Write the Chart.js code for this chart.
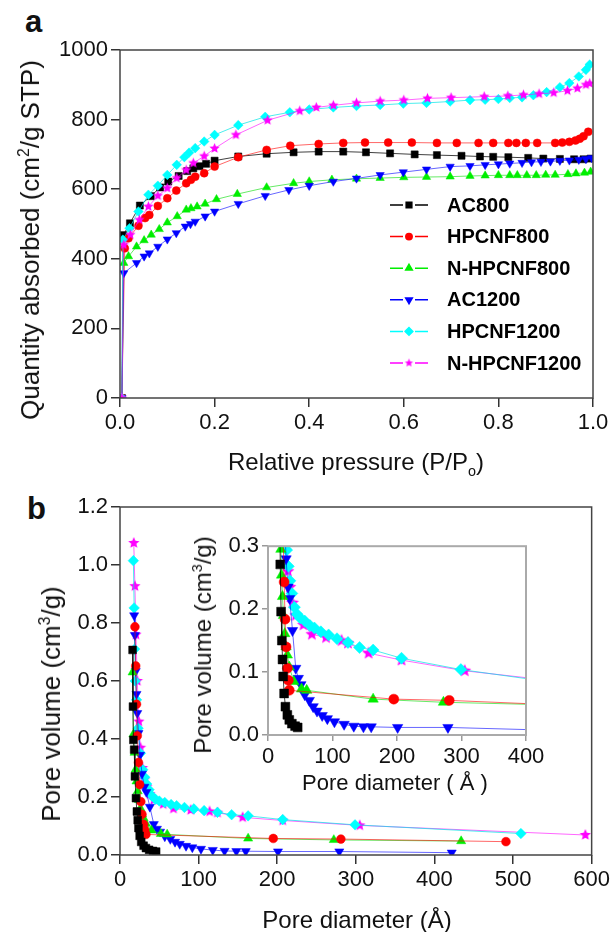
<!DOCTYPE html>
<html>
<head>
<meta charset="utf-8">
<script src="https://cdn.jsdelivr.net/npm/chart.js@4.4.0/dist/chart.umd.min.js"></script>
<style>
  body { margin: 0; background: #fff; width: 613px; height: 932px; overflow: hidden; position: relative;
         font-family: 'Liberation Sans', Arial, sans-serif; color: #111; }
  canvas { position: absolute; }
  .lbl { position: absolute; white-space: nowrap; line-height: 1; transform: translate(-50%, -50%); }
  .rot { transform: translate(-50%, -50%) rotate(-90deg); }
  .panel { position: absolute; font-weight: bold; font-size: 31px; line-height: 1; }
  sup, sub { font-size: 60%; line-height: 0; }
</style>
</head>
<body>
<div class="panel" style="left:25px;top:6px">a</div>
<div class="panel" style="left:27px;top:493px">b</div>

<canvas id="chartA" width="613" height="480" style="left:0;top:0"></canvas>
<canvas id="chartB" width="613" height="452" style="left:0;top:480px"></canvas>
<canvas id="chartInset" width="380" height="270" style="left:185px;top:530px"></canvas>

<div class="lbl rot" style="left:30px;top:240px;font-size:26px">Quantity absorbed (cm<sup>2</sup>/g STP)</div>
<div class="lbl" style="left:356px;top:462px;font-size:24px">Relative pressure (P/P<sub>o</sub>)</div>
<div class="lbl rot" style="left:51px;top:704px;font-size:26px">Pore volume (cm<sup>3</sup>/g)</div>
<div class="lbl" style="left:357px;top:920px;font-size:24px">Pore diameter (Å)</div>
<div class="lbl rot" style="left:203px;top:645px;font-size:24px">Pore volume (cm<sup>3</sup>/g)</div>
<div class="lbl" style="left:395px;top:783px;font-size:22px">Pore diameter ( Å )</div>

<script>
// --- series ---
const seriesNames = ['AC800', 'HPCNF800', 'N-HPCNF800', 'AC1200', 'HPCNF1200', 'N-HPCNF1200'];
const seriesColors = ['#000000', '#ff0000', '#00ee00', '#0000ff', '#00ffff', '#ff00ff'];
const lineColors = ['rgba(0,0,0,0.75)', 'rgba(255,0,0,0.6)', 'rgba(0,220,0,0.6)', 'rgba(0,0,255,0.6)', 'rgba(0,230,230,0.7)', 'rgba(255,0,255,0.6)'];
const seriesShapes = ['rect', 'circle', 'triangle', 'triangleDown', 'rectRot', 'star'];

// --- panel a: isotherms (P/Po, cm2/g STP) ---
const pAC800 = [0.004, 0.007, 0.021, 0.042, 0.065, 0.085, 0.102, 0.124, 0.142, 0.155, 0.168, 0.182, 0.2, 0.25, 0.31, 0.367, 0.42, 0.472, 0.52, 0.571, 0.623, 0.67, 0.722, 0.761, 0.789, 0.821, 0.863, 0.895, 0.93, 0.96, 0.98, 0.995];
const vAC800 = [0, 468, 502, 553, 580, 605, 622, 638, 652, 660, 666, 673, 682, 694, 702, 706, 708, 708, 706, 703, 700, 698, 696, 694, 693, 692, 690, 688, 687, 686, 686, 688];

const pHPCNF800 = [0.004, 0.01, 0.018, 0.039, 0.053, 0.062, 0.08, 0.1, 0.119, 0.14, 0.15, 0.159, 0.178, 0.2, 0.25, 0.31, 0.36, 0.42, 0.472, 0.518, 0.567, 0.617, 0.67, 0.712, 0.758, 0.789, 0.821, 0.838, 0.858, 0.882, 0.92, 0.935, 0.95, 0.963, 0.972, 0.98, 0.99];
const vHPCNF800 = [0, 430, 459, 495, 517, 526, 552, 574, 596, 617, 627, 636, 646, 665, 692, 713, 725, 730, 733, 734, 734, 734, 733, 733, 733, 733, 733, 733, 733, 733, 733, 734, 736, 740, 745, 752, 765];

const pNHPCNF800 = [0.004, 0.008, 0.018, 0.035, 0.051, 0.066, 0.083, 0.1, 0.121, 0.14, 0.15, 0.163, 0.18, 0.204, 0.248, 0.31, 0.367, 0.4, 0.448, 0.5, 0.55, 0.6, 0.648, 0.698, 0.74, 0.772, 0.8, 0.824, 0.84, 0.86, 0.88, 0.9, 0.92, 0.947, 0.964, 0.982, 0.995];
const vNHPCNF800 = [0, 388, 407, 435, 453, 469, 485, 504, 522, 541, 545, 550, 558, 571, 586, 605, 617, 622, 627, 630, 632, 634, 635, 636, 638, 639, 640, 640, 640, 640, 640, 641, 641, 643, 645, 647, 650];

const pAC1200 = [0.004, 0.008, 0.035, 0.051, 0.062, 0.08, 0.1, 0.119, 0.138, 0.149, 0.159, 0.18, 0.2, 0.25, 0.307, 0.357, 0.4, 0.451, 0.5, 0.55, 0.599, 0.648, 0.698, 0.74, 0.772, 0.8, 0.824, 0.85, 0.87, 0.89, 0.91, 0.93, 0.95, 0.97, 0.985, 0.997];
const vAC1200 = [0, 359, 388, 407, 416, 435, 456, 474, 493, 500, 507, 522, 536, 558, 581, 598, 610, 622, 631, 641, 649, 657, 665, 667, 670, 672, 674, 676, 678, 679, 680, 682, 683, 685, 687, 690];

const pHPCNF1200 = [0.004, 0.006, 0.02, 0.039, 0.06, 0.08, 0.1, 0.12, 0.136, 0.146, 0.159, 0.178, 0.2, 0.25, 0.307, 0.359, 0.4, 0.451, 0.5, 0.55, 0.599, 0.648, 0.698, 0.74, 0.772, 0.8, 0.824, 0.85, 0.874, 0.902, 0.93, 0.95, 0.97, 0.985, 0.993];
const vHPCNF1200 = [0, 455, 488, 536, 584, 610, 641, 670, 692, 705, 718, 737, 756, 784, 808, 821, 829, 835, 839, 842, 846, 848, 852, 856, 857, 859, 862, 864, 870, 879, 893, 905, 924, 943, 958];

const pNHPCNF1200 = [0.004, 0.008, 0.022, 0.041, 0.06, 0.08, 0.1, 0.12, 0.14, 0.155, 0.178, 0.2, 0.245, 0.312, 0.38, 0.415, 0.451, 0.5, 0.55, 0.6, 0.65, 0.7, 0.77, 0.82, 0.853, 0.886, 0.917, 0.946, 0.967, 0.985, 0.993];
const vNHPCNF1200 = [0, 440, 469, 512, 550, 581, 603, 632, 655, 675, 695, 717, 756, 798, 825, 835, 841, 848, 853, 856, 861, 863, 866, 868, 871, 874, 877, 883, 890, 900, 904];

// --- panel b: pore size distribution (Å, cm3/g) ---
const dAC800 = [16, 16.5, 17, 18, 19, 20.3, 21.5, 22.5, 23.5, 25, 27, 30, 33, 37, 42, 46];
const wAC800 = [0.707, 0.512, 0.397, 0.363, 0.271, 0.196, 0.15, 0.12, 0.093, 0.066, 0.045, 0.032, 0.024, 0.018, 0.014, 0.012];

const dHPCNF800 = [19, 20, 21, 22, 23.5, 25, 26.5, 28, 30, 31.5, 33, 195, 281, 491];
const wHPCNF800 = [0.787, 0.652, 0.52, 0.411, 0.319, 0.243, 0.184, 0.14, 0.106, 0.087, 0.071, 0.057, 0.055, 0.046];

const dNHPCNF800 = [16, 17, 18.5, 20, 21, 22.5, 24, 26, 28, 30, 33, 40, 52, 60, 163, 272, 434];
const wNHPCNF800 = [0.63, 0.416, 0.353, 0.295, 0.254, 0.22, 0.19, 0.161, 0.14, 0.127, 0.108, 0.085, 0.073, 0.071, 0.057, 0.052, 0.048];

const dAC1200 = [18, 19, 20, 21, 22, 23.5, 25.5, 28, 31, 33.5, 38, 43, 47, 51, 57, 64, 70, 76, 84, 92, 103, 118, 133, 148, 160, 201, 279, 422];
const wAC1200 = [0.826, 0.758, 0.634, 0.555, 0.489, 0.42, 0.345, 0.28, 0.235, 0.217, 0.166, 0.106, 0.09, 0.08, 0.064, 0.055, 0.045, 0.038, 0.031, 0.026, 0.021, 0.017, 0.014, 0.013, 0.013, 0.012, 0.012, 0.008];

const dHPCNF1200 = [17, 18, 18.6, 19.4, 21, 23, 26, 29, 31.5, 34, 37, 41, 45, 50, 57, 65, 72, 82, 94, 107, 124, 142, 163, 207, 299, 510];
const wHPCNF1200 = [1.015, 0.852, 0.71, 0.6, 0.535, 0.437, 0.351, 0.294, 0.268, 0.245, 0.225, 0.203, 0.192, 0.186, 0.181, 0.174, 0.17, 0.164, 0.159, 0.153, 0.147, 0.139, 0.135, 0.122, 0.104, 0.074];

const dNHPCNF1200 = [17.5, 19, 20.3, 22, 24, 26, 28.5, 31, 34, 38, 43, 55, 68, 90, 114, 124, 156, 207, 305, 592];
const wNHPCNF1200 = [1.076, 0.927, 0.76, 0.6, 0.46, 0.37, 0.3, 0.26, 0.235, 0.21, 0.19, 0.175, 0.16, 0.155, 0.15, 0.146, 0.13, 0.119, 0.102, 0.069];

const isoX = [pAC800, pHPCNF800, pNHPCNF800, pAC1200, pHPCNF1200, pNHPCNF1200];
const isoY = [vAC800, vHPCNF800, vNHPCNF800, vAC1200, vHPCNF1200, vNHPCNF1200];
const psdX = [dAC800, dHPCNF800, dNHPCNF800, dAC1200, dHPCNF1200, dNHPCNF1200];
const psdY = [wAC800, wHPCNF800, wNHPCNF800, wAC1200, wHPCNF1200, wNHPCNF1200];

const FONT = "'Liberation Sans', Arial, sans-serif";

// filled five point star used as a point style
function makeStar(r, color) {
    const c = document.createElement('canvas');
    const s = Math.ceil(r * 2 + 2);
    c.width = s; c.height = s;
    const g = c.getContext('2d');
    g.fillStyle = color;
    g.beginPath();
    for (let k = 0; k < 10; k++) {
        const rr = k % 2 ? r * 0.45 : r;
        const a = -Math.PI / 2 + k * Math.PI / 5;
        g.lineTo(s / 2 + rr * Math.cos(a), s / 2 + rr * Math.sin(a));
    }
    g.closePath();
    g.fill();
    return c;
}

function buildDatasets(xsList, ysList, r, laterOnTop) {
    const star = makeStar(r * 1.35, seriesColors[5]);
    return seriesNames.map((name, i) => {
        const shape = seriesShapes[i];
        let style = shape, rot = 0, rad = r;
        if (shape === 'triangleDown') { style = 'triangle'; rot = 180; }
        if (shape === 'star') style = star;
        if (shape === 'rect') rad = r * 1.25;
        if (shape === 'rectRot') rad = r * 1.2;
        if (style === 'triangle') rad = r * 1.2;
        return {
            label: name,
            data: xsList[i].map((x, j) => ({ x: x, y: ysList[i][j] })),
            borderColor: lineColors[i],
            borderWidth: 1,
            backgroundColor: seriesColors[i],
            pointBackgroundColor: seriesColors[i],
            pointBorderColor: seriesColors[i],
            pointBorderWidth: 0.5,
            pointStyle: style,
            pointRotation: rot,
            pointRadius: rad,
            pointHoverRadius: rad,
            tension: 0,
            fill: false,
            order: laterOnTop ? -i : i
        };
    });
}

function axis(min, max, step, digits, fixed, tickLen, tickColor) {
    return {
        type: 'linear', min: min, max: max,
        ticks: {
            stepSize: step, autoSkip: false, maxRotation: 0, padding: 3,
            color: '#111', font: { family: FONT, size: 22 },
            callback: v => Number(v).toFixed(digits)
        },
        grid: { display: true, drawOnChartArea: false, drawTicks: true, tickLength: tickLen, color: tickColor, lineWidth: 1.5 },
        border: { display: false },
        afterFit: s => { if (s.isHorizontal()) s.height = fixed; else s.width = fixed; }
    };
}

const framePlugin = {
    id: 'frame',
    afterDatasetsDraw(chart, args, opts) {
        const { left, top, right, bottom } = chart.chartArea;
        const ctx = chart.ctx;
        ctx.save();
        ctx.strokeStyle = opts.color;
        ctx.lineWidth = opts.width;
        ctx.strokeRect(left, top, right - left, bottom - top);
        ctx.restore();
    }
};

// legend of panel a, drawn inside the plot: dash, marker, dash
const isoLegend = {
    id: 'isoLegend',
    afterDraw(chart) {
        const ctx = chart.ctx;
        chart.data.datasets.forEach((ds, i) => {
            const y = 205 + i * 31.6;
            ctx.save();
            ctx.strokeStyle = seriesColors[i];
            ctx.lineWidth = 1.5;
            ctx.beginPath();
            ctx.moveTo(390, y); ctx.lineTo(403, y);
            ctx.moveTo(415, y); ctx.lineTo(428, y);
            ctx.stroke();
            ctx.fillStyle = seriesColors[i];
            let st = ds.pointStyle;
            if (typeof st !== 'string') st = makeStar(4.4, seriesColors[5]);
            Chart.helpers.drawPoint(ctx, { pointStyle: st, rotation: ds.pointRotation, radius: ds.pointRadius * 0.8, borderWidth: 0.5 }, 409, y);
            ctx.fillStyle = '#000';
            ctx.font = 'bold 20px ' + FONT;
            ctx.textBaseline = 'middle';
            ctx.fillText(ds.label, 447, y + 1);
            ctx.restore();
        });
    }
};

function baseOptions(padding, xAxis, yAxis, frameColor, frameWidth) {
    return {
        responsive: false, animation: false, events: [],
        layout: { padding: padding },
        scales: { x: xAxis, y: yAxis },
        plugins: { legend: { display: false }, tooltip: { enabled: false }, frame: { color: frameColor, width: frameWidth } }
    };
}

// --- panel a ---
new Chart(document.getElementById('chartA'), {
    type: 'line',
    data: { datasets: buildDatasets(isoX, isoY, 4.0, true) },
    options: baseOptions({ left: 0, top: 50, right: 20, bottom: 0 },
        axis(0, 1, 0.2, 1, 82, 9, '#333'),
        axis(0, 1000, 200, 0, 120, 9, '#333'), '#444', 1.5),
    plugins: [framePlugin, isoLegend]
});

// --- panel b ---
new Chart(document.getElementById('chartB'), {
    type: 'line',
    data: { datasets: buildDatasets(psdX, psdY, 4.4, false) },
    options: baseOptions({ left: 0, top: 27, right: 20, bottom: 0 },
        axis(0, 600, 100, 0, 77, 9, '#333'),
        axis(0, 1.2, 0.2, 1, 120, 9, '#333'), '#444', 1.5),
    plugins: [framePlugin]
});

// --- inset of panel b ---
new Chart(document.getElementById('chartInset'), {
    type: 'line',
    data: { datasets: buildDatasets(psdX, psdY, 5.0, false) },
    options: baseOptions({ left: 0, top: 16, right: 39, bottom: 0 },
        axis(0, 400, 100, 0, 65, 6, '#999'),
        axis(0, 0.3, 0.1, 1, 83, 6, '#999'), '#aaa', 2),
    plugins: [framePlugin]
});
</script>
</body>
</html>
